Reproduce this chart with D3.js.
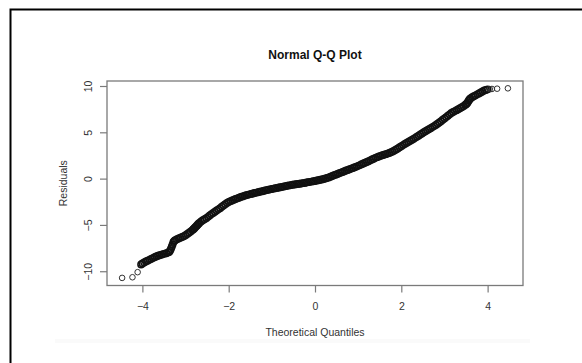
<!doctype html>
<html>
  <head>
    <meta charset="utf-8">
    <title>Normal Q-Q Plot</title>
    <style>
    body {
      margin: 0;
      background-color: #ffffff;
      font-family: 'Liberation Sans', Arial, sans-serif;
    }
    svg { display: block; }
    .axis path, .axis line { stroke: #7a7a7a; stroke-width: 1.2; }
    .axis text { fill: #333; font-size: 10.5px; font-family: 'Liberation Sans', Arial, sans-serif; }
    </style>
    <script src="https://cdnjs.cloudflare.com/ajax/libs/d3/7.8.5/d3.min.js"></script>
  </head>
  <body>
    <div id="chart"></div>
    <script>

      // values: theoretical quantile -> residual
      const theoretical = [
        -4.47, -4.23, -4.11, -4.03, -4.00,
        -3.96, -3.92, -3.88, -3.84, -3.80, -3.76, -3.72, -3.68, -3.64, -3.60,
        -3.56, -3.52, -3.48, -3.44, -3.40, -3.38, -3.36, -3.34, -3.32, -3.30,
        -3.28, -3.26, -3.24, -3.20,
        -3.16, -3.12, -3.08, -3.04, -3.00, -2.96, -2.92, -2.88, -2.84, -2.82,
        -2.80, -2.78, -2.76, -2.74, -2.72, -2.70, -2.68, -2.64, -2.60, -2.56,
        -2.52, -2.48, -2.44, -2.40,
        -2.36, -2.32, -2.28, -2.24, -2.20, -2.16, -2.12, -2.08, -2.04, -2.00,
        -1.96, -1.92, -1.88, -1.84, -1.80, -1.76, -1.72, -1.68, -1.64, -1.60,
        -1.56, -1.52, -1.48, -1.44, -1.40, -1.36, -1.32, -1.28, -1.24, -1.20,
        -1.16, -1.12, -1.08, -1.04, -1.00, -0.96, -0.92, -0.88, -0.84, -0.80,
        -0.76, -0.72, -0.68, -0.64, -0.60, -0.56, -0.52, -0.48, -0.44, -0.40,
        -0.36, -0.32, -0.28, -0.24, -0.20, -0.16, -0.12, -0.08, -0.04, 0.00,
        0.04, 0.08, 0.12, 0.16, 0.20, 0.24, 0.28, 0.32, 0.36, 0.40,
        0.44, 0.48, 0.52, 0.56, 0.60, 0.64, 0.68, 0.72, 0.76, 0.80,
        0.84, 0.88, 0.92, 0.96, 1.00, 1.04, 1.08, 1.12, 1.16, 1.20,
        1.24, 1.28, 1.32, 1.36, 1.40, 1.44, 1.48, 1.52, 1.56, 1.60,
        1.64, 1.68, 1.72, 1.76, 1.80, 1.84, 1.88, 1.92, 1.96, 2.00,
        2.04, 2.08, 2.12, 2.16, 2.20, 2.24, 2.28, 2.32, 2.36, 2.40,
        2.44, 2.48, 2.52, 2.56, 2.60, 2.64, 2.68, 2.72, 2.76, 2.80,
        2.84, 2.88, 2.92, 2.96, 3.00, 3.04, 3.08, 3.12, 3.16, 3.20,
        3.24, 3.28, 3.32, 3.36, 3.40, 3.44, 3.48, 3.50, 3.52, 3.54,
        3.56, 3.58, 3.60, 3.64, 3.68, 3.72, 3.76, 3.80, 3.84, 3.88,
        3.92, 3.96, 4.00, 4.05, 4.10, 4.22, 4.47
      ];

      const residuals = [
        -10.72, -10.65, -10.10, -9.28, -9.16,
        -9.05, -8.95, -8.86, -8.77, -8.68, -8.58, -8.49, -8.41, -8.33, -8.27,
        -8.21, -8.15, -8.10, -8.05, -7.98, -7.92, -7.80, -7.60, -7.35, -7.10,
        -6.85, -6.72, -6.65, -6.55,
        -6.47, -6.39, -6.31, -6.22, -6.12, -5.98, -5.84, -5.70, -5.56, -5.47,
        -5.38, -5.28, -5.18, -5.08, -4.98, -4.88, -4.78, -4.62, -4.50, -4.39,
        -4.27, -4.13, -3.98, -3.83,
        -3.70, -3.57, -3.44, -3.32, -3.19, -3.04, -2.89, -2.76, -2.64, -2.53,
        -2.43, -2.35, -2.27, -2.20, -2.13, -2.06, -1.99, -1.92, -1.86, -1.80,
        -1.75, -1.70, -1.65, -1.60, -1.56, -1.51, -1.47, -1.42, -1.38, -1.33,
        -1.29, -1.24, -1.20, -1.16, -1.12, -1.08, -1.04, -1.00, -0.96, -0.93,
        -0.89, -0.85, -0.81, -0.77, -0.73, -0.70, -0.67, -0.64, -0.61, -0.58,
        -0.55, -0.52, -0.49, -0.46, -0.42, -0.38, -0.35, -0.32, -0.28, -0.25,
        -0.21, -0.17, -0.13, -0.09, -0.04, 0.01, 0.06, 0.13, 0.21, 0.28,
        0.36, 0.43, 0.50, 0.58, 0.65, 0.72, 0.79, 0.87, 0.94, 1.01,
        1.08, 1.15, 1.23, 1.30, 1.38, 1.46, 1.55, 1.63, 1.71, 1.80,
        1.88, 1.97, 2.06, 2.15, 2.24, 2.32, 2.40, 2.46, 2.52, 2.58,
        2.64, 2.70, 2.77, 2.85, 2.94, 3.04, 3.15, 3.26, 3.38, 3.50,
        3.62, 3.74, 3.85, 3.96, 4.07, 4.17, 4.28, 4.40, 4.52, 4.64,
        4.76, 4.88, 5.00, 5.12, 5.23, 5.34, 5.45, 5.56, 5.67, 5.79,
        5.92, 6.06, 6.20, 6.35, 6.50, 6.64, 6.79, 6.94, 7.08, 7.19,
        7.29, 7.39, 7.49, 7.59, 7.70, 7.82, 7.95, 8.03, 8.12, 8.25,
        8.40, 8.54, 8.66, 8.78, 8.89, 8.99, 9.10, 9.20, 9.31, 9.41,
        9.51, 9.58, 9.64, 9.66, 9.68, 9.71, 9.75
      ];

      const xTicks = [-4, -2, 0, 2, 4];
      const yTicks = [-10, -5, 0, 5, 10];

      const width = 582, height = 363;
      const plot = {left: 107, right: 523, top: 81, bottom: 285.5};

      const svg = d3.select('#chart')
        .append('svg')
        .attr('width', width)
        .attr('height', height);

      // screenshot frame (left and top edges visible)
      svg.append('path')
        .attr('d', `M10.5,${height} V9.5 H${width}`)
        .attr('fill', 'none')
        .attr('stroke', '#000')
        .attr('stroke-width', 2);

      // faint strip near the bottom
      svg.append('rect')
        .attr('x', 55).attr('y', 339)
        .attr('width', 475).attr('height', 4)
        .attr('fill', '#fafafa');

      const x = d3.scaleLinear().domain([-4.82, 4.82]).range([plot.left, plot.right]);
      const y = d3.scaleLinear().domain([-11.54, 10.54]).range([plot.bottom, plot.top]);

      // points: the dense band overlaps, the lone tail points stay thin
      const pts = d3.zip(theoretical, residuals);
      const isTail = d => d[0] < -4.05 || d[0] > 4.02;
      svg.append('g')
        .selectAll('circle')
        .data(pts)
        .join('circle')
        .attr('cx', d => x(d[0]))
        .attr('cy', d => y(d[1]))
        .attr('r', d => isTail(d) ? 2.8 : 3.2)
        .attr('fill', 'none')
        .attr('stroke', d => isTail(d) ? '#333' : '#111')
        .attr('stroke-width', d => isTail(d) ? 1 : 1.5);

      // plot box
      svg.append('rect')
        .attr('x', plot.left).attr('y', plot.top)
        .attr('width', plot.right - plot.left)
        .attr('height', plot.bottom - plot.top)
        .attr('fill', 'none')
        .attr('stroke', '#7a7a7a')
        .attr('stroke-width', 1.3);

      // x axis, detached like base R
      const xAxis = svg.append('g')
        .attr('class', 'axis')
        .attr('transform', `translate(0,${plot.bottom})`)
        .call(d3.axisBottom(x).tickValues(xTicks).tickSize(7).tickPadding(10).tickFormat(d3.format('d')));
      xAxis.select('.domain').remove();

      const yAxis = svg.append('g')
        .attr('class', 'axis')
        .attr('transform', `translate(${plot.left},0)`)
        .call(d3.axisLeft(y).tickValues(yTicks).tickSize(7).tickFormat(d3.format('d')));
      yAxis.select('.domain').remove();
      yAxis.selectAll('text')
        .attr('x', null).attr('dy', null)
        .attr('text-anchor', 'middle')
        .attr('transform', 'translate(-15,0) rotate(-90)');

      // titles
      svg.append('text')
        .attr('x', (plot.left + plot.right) / 2)
        .attr('y', 59)
        .attr('text-anchor', 'middle')
        .style('font-size', '12px')
        .style('font-weight', 'bold')
        .style('fill', '#111')
        .text('Normal Q-Q Plot');

      svg.append('text')
        .attr('x', (plot.left + plot.right) / 2)
        .attr('y', 336)
        .attr('text-anchor', 'middle')
        .style('font-size', '10.5px')
        .style('fill', '#333')
        .text('Theoretical Quantiles');

      svg.append('text')
        .attr('transform', `translate(66.5,${(plot.top + plot.bottom) / 2}) rotate(-90)`)
        .attr('text-anchor', 'middle')
        .style('font-size', '10.5px')
        .style('fill', '#333')
        .text('Residuals');

    </script>
  </body>
</html>
